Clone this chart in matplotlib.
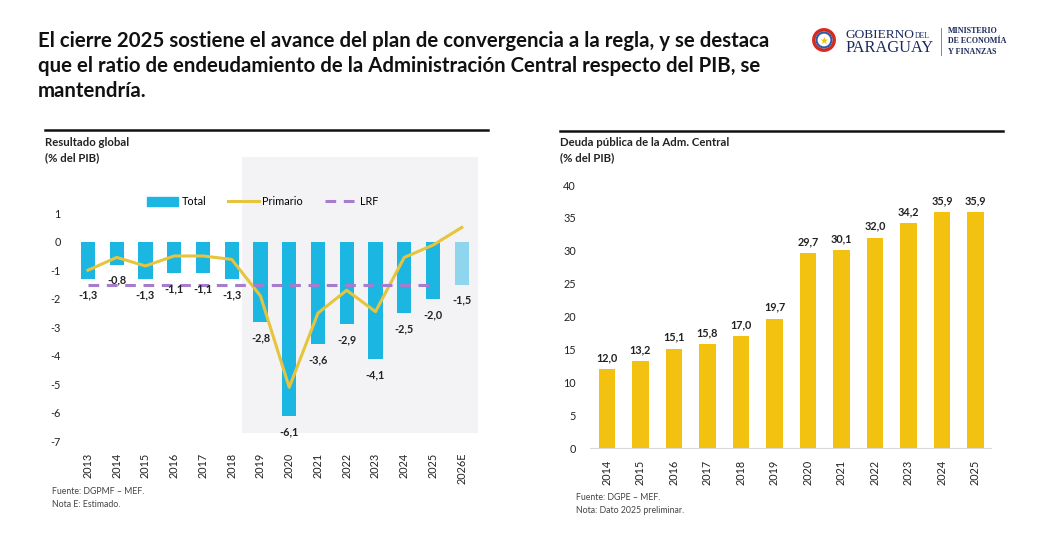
import numpy as np
import matplotlib
matplotlib.use("Agg")
import matplotlib.pyplot as plt
from matplotlib.patches import Rectangle, Circle

plt.rcParams['font.family'] = ['Lato', 'DejaVu Sans']
plt.rcParams['axes.unicode_minus'] = False

# --- left chart data: Resultado global (% del PIB)
years_l = ['2013', '2014', '2015', '2016', '2017', '2018', '2019', '2020',
           '2021', '2022', '2023', '2024', '2025', '2026E']
total = [-1.3, -0.8, -1.3, -1.1, -1.1, -1.3, -2.8, -6.1, -3.6, -2.9, -4.1, -2.5, -2.0, -1.5]
primario = [-1.0, -0.55, -0.85, -0.5, -0.5, -0.62, -1.9, -5.1, -2.5, -1.7, -2.45, -0.55, -0.12, 0.5]
lrf = [-1.5] * 13  # 2013-2025

# --- right chart data: Deuda pública de la Adm. Central (% del PIB)
years_r = ['2014', '2015', '2016', '2017', '2018', '2019', '2020', '2021',
           '2022', '2023', '2024', '2025']
deuda = [12.0, 13.2, 15.1, 15.8, 17.0, 19.7, 29.7, 30.1, 32.0, 34.2, 35.9, 35.9]

blue = '#1cb6e3'
blue_light = '#8fd5ee'
yellow_line = '#e6c43c'
purple = '#a67ccc'
gold = '#f3c211'

fig = plt.figure(figsize=(10.46, 5.38), dpi=100)
fig.patch.set_facecolor('white')

def fmt(v):
    return f"{v:.1f}".replace('.', ',')

# title
fig.text(38/1046, 1 - 31/538,
         "El cierre 2025 sostiene el avance del plan de convergencia a la regla, y se destaca\n"
         "que el ratio de endeudamiento de la Administración Central respecto del PIB, se\n"
         "mantendría.",
         fontsize=14.7, fontweight='bold', va='top', ha='left', linespacing=1.3, color='#111111')

# logo (text approximation)
lax = fig.add_axes([812/1046, 1 - 52/538, 24/1046, 24/538])
lax.set_xlim(-1, 1)
lax.set_ylim(-1, 1)
lax.set_aspect('equal')
lax.axis('off')
lax.add_patch(Circle((0, 0), 0.85, facecolor='white', edgecolor='#d52b1e', lw=2.5))
lax.add_patch(Circle((0, 0), 0.62, facecolor='white', edgecolor='#2a5aa8', lw=1.5))
lax.text(0, -0.05, "★", color='#f2c200', fontsize=7, ha='center', va='center',
         family=['DejaVu Sans'])
fig.text(846/1046, 1 - 35/538, "GOBIERNO", family=['Liberation Serif'], fontsize=9.6,
         color='#1b2a5a', va='center', ha='left')
fig.text(915/1046, 1 - 36/538, "DEL", family=['Liberation Serif'], fontsize=5.5,
         color='#1b2a5a', va='center', ha='left')
fig.text(846/1046, 1 - 48/538, "PARAGUAY", family=['Liberation Serif'], fontsize=11.8,
         color='#1b2a5a', va='center', ha='left')
fig.lines.append(plt.Line2D([941/1046, 941/1046], [1 - 28/538, 1 - 55/538],
                            transform=fig.transFigure, color='#888888', lw=0.7))
for i, t in enumerate(["MINISTERIO", "DE ECONOMÍA", "Y FINANZAS"]):
    fig.text(948/1046, 1 - (31 + i * 10.5)/538, t, family=['Liberation Serif'], fontsize=5.8,
             fontweight='bold', color='#1b2a5a', va='center', ha='left')

# rules above panels
fig.lines.append(plt.Line2D([45/1046, 488/1046], [1 - 130/538] * 2,
                            transform=fig.transFigure, color='#111111', lw=1.8))
fig.lines.append(plt.Line2D([560/1046, 1003/1046], [1 - 131/538] * 2,
                            transform=fig.transFigure, color='#111111', lw=1.8))

# panel subtitles
fig.text(45/1046, 1 - 137/538, "Resultado global\n(% del PIB)", fontsize=8.2,
         fontweight='bold', va='top', ha='left', linespacing=1.5, color='#222222')
fig.text(560/1046, 1 - 137/538, "Deuda pública de la Adm. Central\n(% del PIB)", fontsize=8.2,
         fontweight='bold', va='top', ha='left', linespacing=1.5, color='#222222')

# ---------------- left chart ----------------
ax1 = fig.add_axes([66.4/1046, 1 - 444.4/538, 412.6/1046, 291.2/538])
x1 = np.arange(len(years_l))
ax1.add_patch(Rectangle((5.35, -6.7), 8.2, 9.66, facecolor='#f3f3f5', edgecolor='none', zorder=0))
colors = [blue] * (len(years_l) - 1) + [blue_light]
h_bar = ax1.bar(x1, total, width=0.5, color=colors, zorder=2)
h_pri, = ax1.plot(x1, primario, color=yellow_line, lw=2.2, zorder=3)
h_lrf, = ax1.plot(x1[:len(lrf)], lrf, color=purple, lw=2.2, ls=(0, (3.5, 2.5)), zorder=4)
for xi, v in zip(x1, total):
    ax1.text(xi, v - 0.36, fmt(v), ha='center', va='top', fontsize=7.8,
             fontweight='bold', color='#222222', zorder=5)
ax1.set_xlim(-0.75, 13.6)
ax1.set_ylim(-7.1, 3.1)
ax1.set_yticks(range(-7, 2))
ax1.set_xticks(x1)
ax1.set_xticklabels(years_l, rotation=90, fontsize=7.8, color='#222222')
ax1.tick_params(axis='y', labelsize=7.8, colors='#222222', length=0, pad=4)
ax1.tick_params(axis='x', length=0, pad=6)
for s in ax1.spines.values():
    s.set_visible(False)
h_tot = Rectangle((0, 0), 1, 1, color=blue)
ax1.legend([h_tot, h_pri, h_lrf], ['Total', 'Primario', 'LRF'],
           loc='upper center', bbox_to_anchor=(0.475, 0.885), ncol=3, frameon=False,
           fontsize=7.8, handlelength=2.9, handleheight=0.9, columnspacing=2.0,
           handletextpad=0.3)

# ---------------- right chart ----------------
ax2 = fig.add_axes([586.9/1046, 1 - 451.3/538, 408.7/1046, 279.4/538])
x2 = np.arange(len(years_r))
ax2.bar(x2, deuda, width=0.5, color=gold, zorder=2)
for xi, v in zip(x2, deuda):
    ax2.text(xi, v + 0.9, fmt(v), ha='center', va='bottom', fontsize=7.8,
             fontweight='bold', color='#222222')
ax2.axhline(0, xmin=0.1 / 12.2, xmax=12.05 / 12.2, color='#d9d9d9', lw=0.8, zorder=1)
ax2.set_xlim(-0.6, 11.6)
ax2.set_ylim(-0.5, 42)
ax2.set_yticks(range(0, 41, 5))
ax2.set_xticks(x2)
ax2.set_xticklabels(years_r, rotation=90, fontsize=7.8, color='#222222')
ax2.tick_params(axis='y', labelsize=7.8, colors='#222222', length=0, pad=8)
ax2.tick_params(axis='x', length=0, pad=6)
for s in ax2.spines.values():
    s.set_visible(False)

# footnotes
fig.text(52/1046, 1 - 498/538, "Fuente: DGPMF – MEF.\nNota E: Estimado.", fontsize=6.3,
         va='center', ha='left', linespacing=1.6, color='#444444')
fig.text(576/1046, 1 - 504/538, "Fuente: DGPE – MEF.\nNota: Dato 2025 preliminar.", fontsize=6.3,
         va='center', ha='left', linespacing=1.6, color='#444444')

fig.savefig('out.png', dpi=100, facecolor='white')
